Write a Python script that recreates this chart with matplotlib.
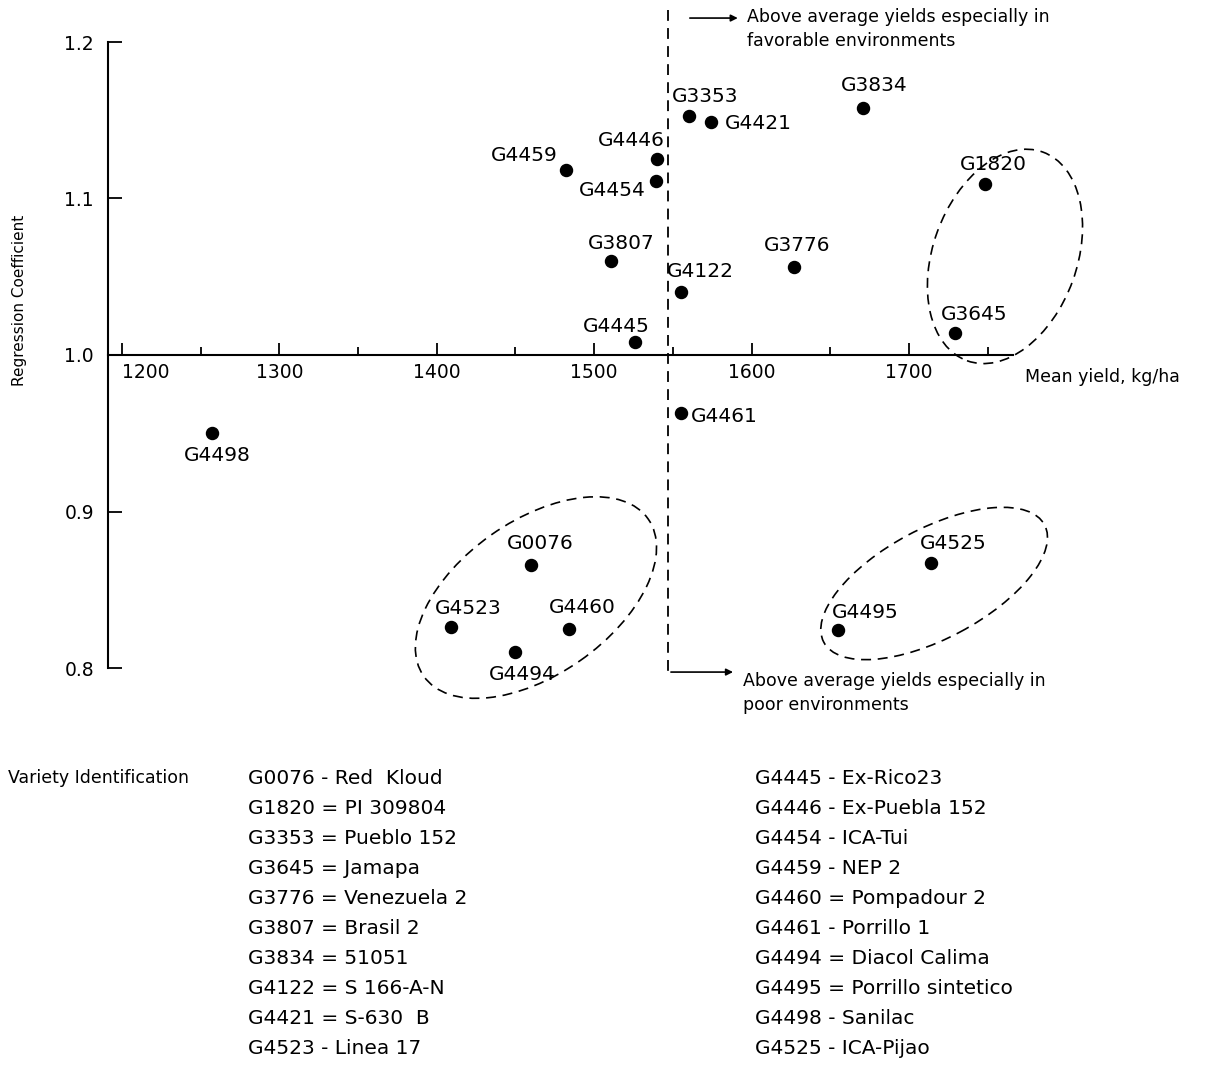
import matplotlib
matplotlib.use("Agg")
import matplotlib.pyplot as plt
from matplotlib.patches import Ellipse
from matplotlib.transforms import ScaledTranslation

plt.rcParams['font.family'] = ['DejaVu Sans']

# dados
variedades = ["G4498", "G4459", "G4446", "G4454", "G3353", "G4421", "G3834",
              "G1820", "G3807", "G3776", "G4122", "G3645", "G4445", "G4461",
              "G0076", "G4523", "G4460", "G4494", "G4525", "G4495"]
rendimento = [1257, 1482, 1540, 1539, 1560, 1574, 1671,
              1748, 1511, 1627, 1555, 1729, 1526, 1555,
              1460, 1409, 1484, 1450, 1714, 1655]
coeficiente = [0.950, 1.118, 1.125, 1.111, 1.153, 1.149, 1.158,
               1.109, 1.060, 1.056, 1.040, 1.014, 1.008, 0.963,
               0.866, 0.826, 0.825, 0.810, 0.867, 0.824]
media_geral = 1547

x_ticks = [1200, 1300, 1400, 1500, 1600, 1700]
x_minor = [1250, 1350, 1450, 1550, 1650, 1750]
y_ticks = [0.8, 0.9, 1.0, 1.1, 1.2]

lista_col1 = ["G0076 - Red  Kloud", "G1820 = PI 309804", "G3353 = Pueblo 152",
              "G3645 = Jamapa", "G3776 = Venezuela 2", "G3807 = Brasil 2",
              "G3834 = 51051", "G4122 = S 166-A-N", "G4421 = S-630  B",
              "G4523 - Linea 17"]
lista_col2 = ["G4445 - Ex-Rico23", "G4446 - Ex-Puebla 152", "G4454 - ICA-Tui",
              "G4459 - NEP 2", "G4460 = Pompadour 2", "G4461 - Porrillo 1",
              "G4494 = Diacol Calima", "G4495 = Porrillo sintetico",
              "G4498 - Sanilac", "G4525 - ICA-Pijao"]

# deslocamento dos rótulos (pixels) e alinhamento
rotulo_pos = {
    "G4498": (6, -22, "center"), "G4459": (-8, 15, "right"),
    "G4446": (8, 19, "right"), "G4454": (-10, -9, "right"),
    "G3353": (17, 19, "center"), "G4421": (14, -2, "left"),
    "G3834": (11, 22, "center"), "G1820": (9, 20, "center"),
    "G3807": (10, 18, "center"), "G3776": (3, 22, "center"),
    "G4122": (20, 21, "center"), "G3645": (20, 19, "center"),
    "G4445": (-19, 16, "center"), "G4461": (10, -4, "left"),
    "G0076": (9, 21, "center"), "G4523": (17, 19, "center"),
    "G4460": (13, 21, "center"), "G4494": (7, -22, "center"),
    "G4525": (22, 20, "center"), "G4495": (27, 18, "center"),
}

fig = plt.figure(figsize=(12.07, 10.68), dpi=100)
ax = fig.add_axes([108 / 1207, 1 - 668 / 1068, (1013 - 108) / 1207, (668 - 42) / 1068])
ax.set_xlim(1191.1, 1766.1)
ax.set_ylim(0.8, 1.2)

ax.scatter(rendimento, coeficiente, s=75, color="black", zorder=3)
for nome, xv, yv in zip(variedades, rendimento, coeficiente):
    dx, dy, ha = rotulo_pos[nome]
    ax.annotate(nome, (xv, yv), xytext=(dx, dy), textcoords="offset pixels",
                ha=ha, va="center", fontsize=14.5)

# eixos no estilo do original
for lado in ["top", "right"]:
    ax.spines[lado].set_visible(False)
ax.spines["bottom"].set_position(("data", 1.0))
ax.spines["left"].set_linewidth(1.5)
ax.spines["bottom"].set_linewidth(1.5)
ax.set_xticks(x_ticks)
ax.set_xticks(x_minor, minor=True)
ax.set_xticklabels([str(v) for v in x_ticks], fontsize=13.5)
ax.get_xticklabels()[0].set_horizontalalignment("left")
ax.set_yticks(y_ticks)
ax.set_yticklabels([f"{v:.1f}" for v in y_ticks], fontsize=13.5)
ax.tick_params(axis="x", which="major", direction="in", length=9, width=1.3, pad=6)
ax.tick_params(axis="x", which="minor", direction="in", length=6, width=1.3)
ax.tick_params(axis="y", direction="in", length=10, width=1.3, pad=10)

# linha da média
ytop = 1.2204
ybot = 0.7974
ax.plot([media_geral, media_geral], [ytop, ybot], ls=(0, (6, 4)), color="black",
        lw=1.3, clip_on=False)
ax.annotate("", xy=(1593, 1.2153), xytext=(1559, 1.2153),
            arrowprops=dict(arrowstyle="-|>", color="black", lw=1.2), annotation_clip=False)
ax.annotate("", xy=(1590, ybot), xytext=(media_geral, ybot),
            arrowprops=dict(arrowstyle="-|>", color="black", lw=1.2), annotation_clip=False)
fig.text(747 / 1207, 1 - 8 / 1068,
         "Above average yields especially in\nfavorable environments",
         ha="left", va="top", fontsize=12.5, linespacing=1.45)
fig.text(743 / 1207, 1 - 672 / 1068,
         "Above average yields especially in\npoor environments",
         ha="left", va="top", fontsize=12.5, linespacing=1.45)

# elipses tracejadas (centro em dados, tamanho em polegadas)
elipses = [((1761, 1.063), 1.44, 2.22, -20),
           ((1463, 0.845), 2.74, 1.54, 35),
           ((1716, 0.854), 2.5, 1.1, 28)]
for (cx, cy), w, h, ang in elipses:
    tr = fig.dpi_scale_trans + ScaledTranslation(cx, cy, ax.transData)
    ax.add_patch(Ellipse((0, 0), w, h, angle=ang, transform=tr, fill=False,
                         ls=(0, (6, 4)), lw=1.2, color="black", clip_on=False))

fig.text(1025 / 1207, 1 - 377 / 1068, "Mean yield, kg/ha", ha="left", va="center", fontsize=12.5)
fig.text(20 / 1207, 1 - 300 / 1068, "Regression Coefficient", rotation=90,
         ha="center", va="center", fontsize=11)

# identificação das variedades
fig.text(8 / 1207, 1 - 778 / 1068, "Variety Identification", ha="left", va="center", fontsize=12.5)
for i, (a, b) in enumerate(zip(lista_col1, lista_col2)):
    yy = 1 - (778 + 30 * i) / 1068
    fig.text(248 / 1207, yy, a, ha="left", va="center", fontsize=14.5)
    fig.text(755 / 1207, yy, b, ha="left", va="center", fontsize=14.5)

fig.savefig("out.png", dpi=100)
